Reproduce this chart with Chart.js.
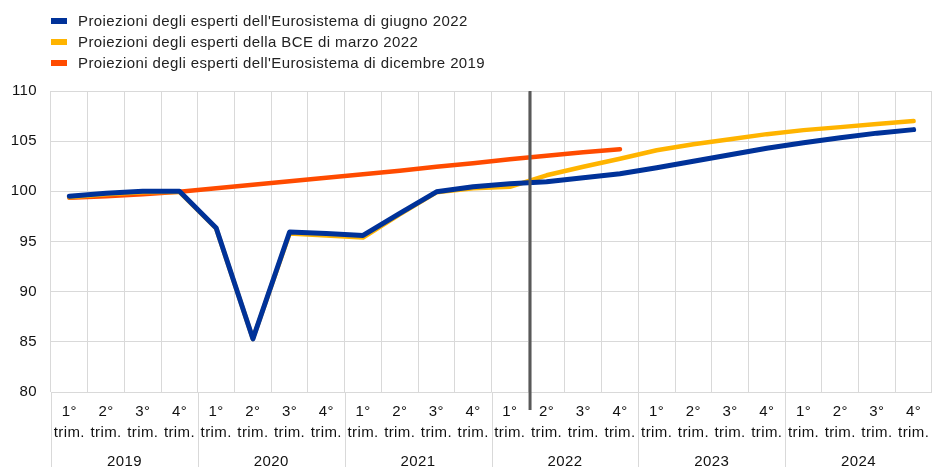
<!DOCTYPE html>
<html>
<head>
<meta charset="utf-8">
<script src="https://cdn.jsdelivr.net/npm/chart.js@4/dist/chart.umd.min.js"></script>
<style>
  html, body { margin: 0; padding: 0; background: #fff; }
  #wrap { position: relative; width: 932px; height: 467px; overflow: hidden; }
  #legend { position: absolute; left: 51px; top: 10px; font-family: "Liberation Sans", Arial, sans-serif; font-size: 15px; letter-spacing: 0.4px; color: #222; }
  .item { height: 21px; line-height: 21px; display: flex; align-items: center; white-space: nowrap; }
  .box { width: 16px; height: 6px; margin-right: 11px; }
</style>
</head>
<body>
<div id="wrap">
  <canvas id="c" width="932" height="467"></canvas>
  <div id="legend"></div>
</div>
<script>
const quarters = ["1°","2°","3°","4°"];
const years = ["2019","2020","2021","2022","2023","2024"];
const categories = years.flatMap(y => quarters.map(q => q + " " + y));
const tickLabels = years.flatMap(() => quarters.map(q => [q, "trim."]));

const seriesNames = [
  "Proiezioni degli esperti dell'Eurosistema di giugno 2022",
  "Proiezioni degli esperti della BCE di marzo 2022",
  "Proiezioni degli esperti dell'Eurosistema di dicembre 2019"
];
const june2022 = [99.5, 99.8, 100.0, 100.0, 96.35, 85.3, 95.95, 95.8, 95.6, 97.8, 99.95, 100.45,
                  100.75, 100.95, 101.35, 101.75, 102.35, 103.0, 103.65, 104.3, 104.85, 105.35, 105.8, 106.15];
const march2022 = [99.4, 99.7, 99.9, 99.95, 96.3, 85.3, 95.8, 95.6, 95.4, 97.7, 99.9, 100.3,
                   100.45, 101.6, 102.45, 103.25, 104.1, 104.7, 105.2, 105.7, 106.1, 106.4, 106.7, 107.0];
const dec2019 = [99.35, 99.5, 99.7, 99.95, 100.3, 100.65, 101.0, 101.35, 101.7, 102.05, 102.45, 102.8,
                 103.2, 103.55, 103.9, 104.2, null, null, null, null, null, null, null, null];
const yTicks = [80, 85, 90, 95, 100, 105, 110];
const markerIndex = 12.55;

const colors = ["#003299", "#FFB400", "#FF4B00"];
const GRID = "#d9d9d9";

Chart.defaults.font.family = '"Liberation Sans", Arial, sans-serif';
Chart.defaults.font.size = 15;
Chart.defaults.color = "#111";

const extras = {
  id: "extras",
  beforeLayout(chart) { chart.ctx.letterSpacing = "0.4px"; },
  beforeDraw(chart) { chart.ctx.letterSpacing = "0.4px"; },
  afterDraw(chart) {
    const ctx = chart.ctx, xs = chart.scales.x, area = chart.chartArea;
    ctx.save();
    ctx.strokeStyle = GRID; ctx.lineWidth = 1;
    for (let k = 0; k <= years.length; k++) {
      const px = Math.round(xs.getPixelForValue(4 * k - 0.5)) + 0.5;
      ctx.beginPath(); ctx.moveTo(px, area.bottom); ctx.lineTo(px, chart.height); ctx.stroke();
    }
    ctx.restore();
  },
  afterDatasetsDraw(chart) {
    const ctx = chart.ctx, xs = chart.scales.x, area = chart.chartArea;
    const px = xs.getPixelForValue(markerIndex);
    ctx.save();
    ctx.strokeStyle = "#595959"; ctx.lineWidth = 3;
    ctx.beginPath(); ctx.moveTo(px, area.top); ctx.lineTo(px, area.bottom + 18); ctx.stroke();
    ctx.restore();
  }
};

const widths = [5, 4.5, 4.5];
const datasets = [june2022, march2022, dec2019].map((d, i) => ({
  label: seriesNames[i],
  data: d,
  borderColor: colors[i],
  backgroundColor: colors[i],
  borderWidth: widths[i],
  pointRadius: 0,
  borderCapStyle: "round",
  borderJoinStyle: "round",
  tension: 0,
  fill: false
}));

function noPad(s) { s.paddingLeft = 0; s.paddingRight = 0; }

const chart = new Chart(document.getElementById("c"), {
  type: "line",
  data: { labels: categories, datasets },
  options: {
    responsive: false,
    animation: false,
    layout: { padding: { top: 91, right: -2, left: 0, bottom: 0 } },
    plugins: { legend: { display: false }, tooltip: { enabled: false } },
    scales: {
      x: {
        type: "category",
        position: "bottom",
        weight: 0,
        offset: true,
        grid: { offset: true, color: GRID, drawTicks: false },
        border: { display: false },
        ticks: { autoSkip: false, maxRotation: 0, padding: 9, font: { size: 15, lineHeight: 1.4 },
                 callback: (v, i) => tickLabels[i] },
        afterFit(s) { s.height = 50; noPad(s); }
      },
      x2: {
        type: "category",
        position: "bottom",
        weight: 1,
        labels: years,
        offset: true,
        grid: { display: false, drawTicks: false },
        border: { display: false },
        ticks: { autoSkip: false, maxRotation: 0, padding: 9, font: { size: 15, lineHeight: 1.4 } },
        afterFit(s) { s.height = 25; noPad(s); }
      },
      y: {
        min: 80, max: 110,
        afterBuildTicks(s) { s.ticks = yTicks.map(v => ({ value: v })); },
        grid: { color: GRID, drawTicks: false },
        border: { display: false },
        ticks: { padding: 14, font: { size: 15 } },
        afterFit(s) { s.width = 51; s.paddingTop = 0; s.paddingBottom = 0; }
      }
    }
  },
  plugins: [extras]
});

const legend = document.getElementById("legend");
seriesNames.forEach((n, i) => {
  const row = document.createElement("div"); row.className = "item";
  const b = document.createElement("span"); b.className = "box"; b.style.background = colors[i];
  const t = document.createElement("span"); t.textContent = n;
  row.appendChild(b); row.appendChild(t); legend.appendChild(row);
});
</script>
</body>
</html>
